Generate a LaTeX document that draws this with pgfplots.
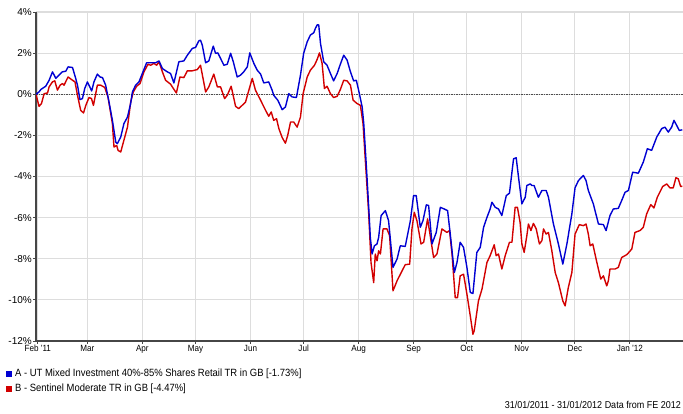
\documentclass[border=0pt]{standalone}
\usepackage{fontspec}
\setmainfont[FakeStretch=0.9]{Liberation Sans}
\newfontfamily\plainsans{Liberation Sans}
\usepackage{pgfplots}
\usepackage{pgfplotstable}
\pgfplotsset{compat=1.18}
\definecolor{serA}{RGB}{0,0,210}
\definecolor{serB}{RGB}{210,0,0}
\definecolor{gridc}{RGB}{221,221,221}
\definecolor{axc}{RGB}{70,70,70}

% day 0 = 31/01/2011, values in %
\pgfplotstableread{
d v
0 0
1.7 0.11
2.7 0.23
5.5 0.39
7.4 0.68
9.3 1.09
11.2 0.77
13.0 0.93
14.9 1.09
16.8 1.12
18.1 1.33
20.6 1.30
22.4 0.77
23.4 0.44
24.8 -0.26
26.2 -0.21
27.5 0.28
29.0 0.60
30.5 0.33
31.4 0.16
32.7 0.60
34.6 0.98
36.1 0.84
37.5 0.81
39.3 0.44
41.2 -0.38
43.1 -1.27
45.0 -2.33
45.9 -2.40
47.8 -2.08
49.6 -1.43
51.6 -1.11
53.4 -0.45
54.4 0.11
56.2 0.44
58.1 0.60
60.0 1.01
62.4 1.53
64.7 1.53
67.5 1.53
69.4 1.62
71.3 1.25
74.1 1.09
75.9 1.01
77.8 0.55
80.6 1.58
83.4 1.62
85.4 1.90
88.2 2.23
90.0 2.28
91.9 2.60
92.8 2.63
93.8 2.39
95.7 1.53
97.5 1.62
100.0 2.34
101.3 1.99
102.6 2.01
106.0 1.41
107.9 1.46
109.8 1.99
111.3 1.58
113.5 0.84
115.4 0.93
117.2 1.09
119.2 1.33
120.6 2.01
122.9 1.50
124.8 1.17
126.7 0.98
128.5 0.55
131.3 0.60
133.2 0.20
134.1 -0.05
136.4 -0.29
138.9 -0.75
140.7 -0.62
142.6 0.03
144.5 -0.13
146.9 -0.16
149.2 0.93
151.0 1.99
153.0 2.55
154.8 2.88
156.7 2.99
157.6 3.20
158.6 3.37
159.5 3.37
160.5 2.47
162.3 1.58
164.2 1.41
166.1 1.01
167.9 0.65
169.9 1.01
171.7 1.46
173.6 1.90
175.5 1.66
177.4 1.09
179.2 0.65
180.7 0.68
182.0 0.20
184.0 -0.62
184.9 -1.43
186.4 -3.55
187.7 -5.50
188.6 -6.96
189.6 -7.77
190.9 -7.37
192.4 -7.28
193.3 -6.96
194.7 -5.90
197.1 -5.66
198.9 -6.15
201.4 -8.42
203.7 -8.01
205.5 -7.37
208.3 -7.40
211.2 -6.15
213.0 -4.93
214.5 -4.93
216.8 -6.47
218.3 -6.15
220.2 -5.38
221.5 -5.41
223.4 -7.28
225.8 -6.72
228.1 -5.50
230.3 -5.58
232.2 -5.66
233.7 -6.80
236.0 -8.67
237.5 -8.18
239.3 -7.20
241.2 -7.45
243.1 -8.42
245.0 -9.64
246.5 -9.69
248.7 -7.69
250.6 -7.45
252.5 -6.47
254.4 -5.99
256.2 -5.58
257.2 -5.25
259.1 -5.50
260.9 -5.58
262.8 -5.90
265.3 -4.93
267.1 -4.81
269.4 -3.14
270.9 -3.09
272.2 -4.03
274.1 -5.33
276.0 -5.01
276.9 -4.44
278.8 -4.36
279.7 -4.44
281.0 -4.44
283.4 -5.01
285.4 -4.68
287.8 -4.68
289.1 -5.01
291.9 -6.31
294.7 -7.28
297.2 -8.26
299.5 -7.28
302.3 -5.82
304.1 -4.55
306.0 -4.20
308.8 -3.95
310.3 -4.20
311.6 -4.68
314.4 -5.33
317.3 -6.31
320.1 -6.34
321.6 -6.63
323.8 -5.90
325.7 -5.58
328.5 -5.55
330.4 -5.17
332.3 -4.77
334.2 -4.68
336.6 -3.79
339.8 -3.84
342.6 -3.30
344.9 -2.65
347.3 -2.73
350.2 -2.08
353.0 -1.67
354.8 -1.60
356.7 -1.84
358.6 -1.60
359.9 -1.27
361.4 -1.51
362.9 -1.76
364.6 -1.73
}\seriesA

\pgfplotstableread{
d v
0 0
1.7 -0.59
3.1 -0.45
4.6 0.03
6.5 0.06
7.4 0.36
9.3 0.60
10.6 0.65
12.1 0.20
13.6 0.44
14.9 0.52
15.8 0.44
18.1 0.84
20.6 0.68
22.0 0.60
23.4 -0.05
25.2 -0.78
26.8 -0.91
28.1 -0.54
29.9 -0.16
31.3 -0.21
32.4 -0.54
33.7 0.03
34.6 0.44
36.5 0.44
38.8 0.33
40.6 -0.13
43.1 -1.43
44.0 -2.57
45.5 -2.49
46.3 -2.73
47.8 -2.81
49.3 -2.33
51.6 -1.60
53.4 -0.38
54.9 0.11
56.8 0.39
58.7 0.52
60.9 1.09
63.2 1.46
64.7 1.41
66.5 1.50
68.1 1.41
69.4 1.58
71.3 1.09
73.1 0.68
75.9 0.49
77.5 0.28
79.2 0.06
81.2 0.84
83.4 0.81
85.4 1.14
88.2 1.14
91.0 1.20
92.8 1.41
95.7 0.11
97.5 0.36
100.3 0.98
102.3 0.36
104.1 0.36
106.4 -0.21
107.9 -0.05
110.1 0.39
112.6 -0.59
114.4 -0.70
116.3 -0.54
118.2 -0.38
120.1 0.20
122.0 0.77
123.8 0.20
126.7 -0.29
129.5 -0.78
131.3 -1.07
132.7 -0.86
134.1 -1.27
135.7 -1.19
137.0 -1.67
138.9 -2.11
140.7 -2.38
142.0 -2.00
143.6 -1.35
145.4 -1.35
147.3 -1.60
149.2 -1.11
150.7 0.03
153.0 0.84
154.8 1.17
157.1 1.41
158.6 1.69
159.9 2.01
161.4 1.50
162.7 0.28
164.2 0.39
166.1 0.03
167.9 -0.16
169.9 -0.10
171.7 0.23
173.6 0.68
175.5 0.65
177.4 0.44
178.9 -0.29
181.1 -0.45
183.0 -0.54
184.5 -1.43
185.8 -3.22
187.7 -5.82
189.0 -8.18
190.5 -9.16
191.4 -7.77
192.4 -8.10
193.3 -7.61
194.3 -7.77
195.8 -6.55
198.0 -6.55
199.5 -6.88
201.4 -9.56
203.7 -9.07
206.5 -8.59
208.3 -8.29
210.8 -8.26
212.1 -6.55
213.4 -5.74
214.9 -6.15
217.2 -7.28
218.7 -7.20
220.9 -6.06
222.4 -6.88
224.3 -7.94
226.2 -7.77
229.0 -6.55
231.8 -6.72
233.3 -6.63
234.7 -7.77
236.5 -9.89
237.8 -9.89
239.3 -8.83
241.2 -8.75
243.1 -9.72
245.0 -10.78
246.5 -11.67
247.2 -11.51
249.6 -10.05
251.6 -9.48
254.4 -8.18
256.2 -7.85
258.5 -7.32
259.6 -7.85
260.9 -7.77
262.8 -8.50
264.7 -7.85
267.1 -7.20
268.5 -7.20
270.3 -5.50
271.6 -5.50
273.1 -6.23
274.1 -7.28
275.4 -7.69
276.9 -6.88
277.8 -6.31
279.2 -6.63
280.6 -6.28
282.2 -6.55
284.0 -7.28
285.4 -7.12
286.3 -6.55
287.8 -6.80
289.1 -6.72
291.0 -7.61
292.9 -8.67
294.7 -9.16
297.2 -10.05
298.5 -10.29
300.3 -9.40
302.3 -8.67
304.1 -6.80
306.5 -6.34
308.8 -6.39
310.3 -6.31
311.6 -6.80
312.6 -7.37
314.1 -7.28
316.4 -8.18
318.6 -8.99
320.1 -8.83
322.0 -9.32
322.9 -9.07
323.8 -8.50
326.7 -8.50
328.5 -8.42
330.4 -7.94
333.3 -7.80
336.1 -7.53
337.9 -6.72
340.7 -6.63
342.6 -6.47
344.5 -5.82
346.8 -5.37
348.6 -5.53
350.5 -5.01
353.5 -4.49
355.8 -4.36
357.6 -4.55
359.5 -4.55
361.0 -4.06
362.3 -4.11
363.7 -4.49
364.6 -4.47
}\seriesB

\begin{document}
\begin{tikzpicture}
\useasboundingbox (0pt,0pt) rectangle (683pt,414pt);
\begin{axis}[
  at={(36pt,73pt)}, anchor=south west,
  scale only axis, width=647pt, height=329pt,
  xmin=0, xmax=365, ymin=-12, ymax=4,
  xtick={1,29,60,90,121,151,182,213,243,274,304,335},
  xticklabels={Feb '11,Mar,Apr,May,Jun,Jul,Aug,Sep,Oct,Nov,Dec,Jan '12},
  ytick={-12,-10,-8,-6,-4,-2,0,2,4},
  yticklabels={-12\%,-10\%,-8\%,-6\%,-4\%,-2\%,0\%,2\%,4\%},
  grid=major, grid style={gridc, line width=1.2pt},
  axis x line*=bottom, axis y line*=left,
  axis line style={axc, line width=1.3pt},
  tick style={axc, line width=0.8pt},
  tick align=outside, major tick length=3pt,
  xticklabel style={font=\fontsize{9}{10}\selectfont, text=black, inner sep=1pt},
  yticklabel style={font=\plainsans\fontsize{10}{11}\selectfont, text=black, inner sep=1pt},
  clip=true,
]
\addplot[black!70, line width=0.8pt, dash pattern=on 1.5pt off 1pt] coordinates {(0,0) (365,0)};
\addplot[serB, line width=1.4pt, line join=round] table[x=d, y=v] {\seriesB};
\addplot[serA, line width=1.4pt, line join=round] table[x=d, y=v] {\seriesA};
\end{axis}
\fill[serA] (6pt,37pt) rectangle (12pt,43pt);
\node[anchor=west, inner sep=0pt, font=\fontsize{10.5}{12}\selectfont] at (15pt,40pt) {A - UT Mixed Investment 40\%-85\% Shares Retail TR in GB [-1.73\%]};
\fill[serB] (6pt,22pt) rectangle (12pt,28pt);
\node[anchor=west, inner sep=0pt, font=\fontsize{10.5}{12}\selectfont] at (15pt,25pt) {B - Sentinel Moderate TR in GB [-4.47\%]};
\node[anchor=east, inner sep=0pt, font=\fontsize{10}{11}\selectfont] at (681pt,9pt) {31/01/2011 - 31/01/2012 Data from FE 2012};
\end{tikzpicture}
\end{document}
